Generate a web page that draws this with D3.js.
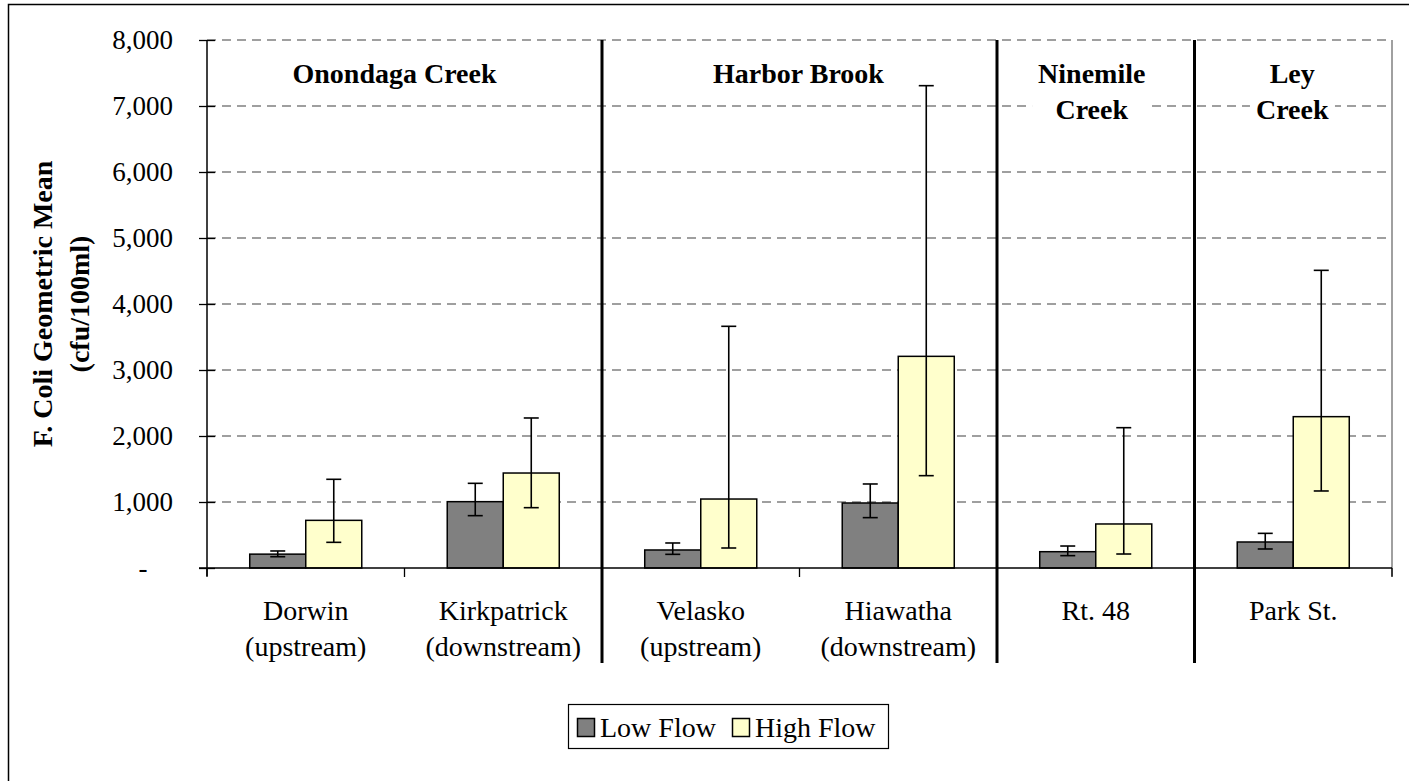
<!DOCTYPE html>
<html>
<head>
<meta charset="utf-8">
<script src="https://cdn.jsdelivr.net/npm/d3@7"></script>
<style>
  body { margin: 0; background: #fff; }
  svg { display: block; }
  svg text { font-family: "Liberation Serif", "Times New Roman", Times, "DejaVu Serif", serif; }
</style>
</head>
<body>
<svg id="chart" width="1409" height="781"></svg>
<script>
// ---- data ----
const categoryLine1 = ["Dorwin", "Kirkpatrick", "Velasko", "Hiawatha", "Rt. 48", "Park St."];
const categoryLine2 = ["(upstream)", "(downstream)", "(upstream)", "(downstream)", "", ""];
const seriesNames = ["Low Flow", "High Flow"];
const lowFlow = [210, 1005, 273, 985, 247, 394];
const highFlow = [722, 1439, 1045, 3207, 667, 2293];
const lowErrLow = [171, 793, 207, 763, 187, 288];
const lowErrHigh = [258, 1283, 379, 1273, 333, 525];
const highErrLow = [389, 914, 303, 1399, 212, 1167];
const highErrHigh = [1344, 2273, 3662, 7308, 2126, 4510];
const groupTitles = [["Onondaga Creek"], ["Harbor Brook"], ["Ninemile", "Creek"], ["Ley", "Creek"]];
const groupStart = [0, 2, 4, 5];
const groupEnd = [1, 3, 4, 5];
const yTicks = [0, 1000, 2000, 3000, 4000, 5000, 6000, 7000, 8000];
const yTitle = ["F. Coli Geometric Mean", "(cfu/100ml)"];

// ---- layout ----
const svg = d3.select("#chart");
const L = 207, R = 1392, T = 40, B = 568;
const colors = ["#808080", "#FFFFCC"];

// outer border
svg.append("rect").attr("x", 8.5).attr("y", 4.5).attr("width", 1420).attr("height", 820)
  .attr("fill", "none").attr("stroke", "#000").attr("stroke-width", 1.5);

const x = d3.scaleBand().domain(d3.range(categoryLine1.length)).range([L, R]).padding(0);
const xs = d3.scaleBand().domain([0, 1]).range([0, x.bandwidth()]).paddingInner(0).paddingOuter(0.763);
const y = d3.scaleLinear().domain([0, 8000]).range([B, T]);

// gridlines
svg.append("g").selectAll("line").data(yTicks.filter(d => d > 0)).join("line")
  .attr("x1", L).attr("x2", R).attr("y1", d => y(d)).attr("y2", d => y(d))
  .attr("stroke", "#808080").attr("stroke-width", 1.3).attr("stroke-dasharray", "9,6");

// right plot border
svg.append("line").attr("x1", R).attr("x2", R).attr("y1", T).attr("y2", B + 8)
  .attr("stroke", "#808080").attr("stroke-width", 1.5);

// group titles with white background boxes
const fmtDx = [-10, -1, -4, -1];
groupTitles.forEach((lines, gi) => {
  const cx = (x(groupStart[gi]) + x(groupEnd[gi]) + x.bandwidth()) / 2 + fmtDx[gi];
  const g = svg.append("g");
  const rect = g.append("rect").attr("fill", "#fff");
  const t = g.append("text").attr("text-anchor", "middle").attr("font-weight", "bold")
    .attr("font-size", 28).attr("fill", "#000");
  lines.forEach((ln, i) => {
    t.append("tspan").attr("x", cx).attr("y", 83 + i * 36).text(ln);
  });
  const bb = t.node().getBBox();
  rect.attr("x", bb.x - 6).attr("y", bb.y + 2).attr("width", bb.width + 12).attr("height", bb.height - 2);
});

// bars
const series = [
  { vals: lowFlow, lo: lowErrLow, hi: lowErrHigh },
  { vals: highFlow, lo: highErrLow, hi: highErrHigh }
];
series.forEach((s, si) => {
  const g = svg.append("g");
  g.selectAll("rect").data(s.vals).join("rect")
    .attr("x", (d, i) => x(i) + xs(si))
    .attr("y", d => y(d))
    .attr("width", xs.bandwidth())
    .attr("height", d => y(0) - y(d))
    .attr("fill", colors[si]).attr("stroke", "#000").attr("stroke-width", 1.5);
});
// error bars
series.forEach((s, si) => {
  const g = svg.append("g").attr("stroke", "#000").attr("stroke-width", 1.6);
  s.vals.forEach((d, i) => {
    const cx = x(i) + xs(si) + xs.bandwidth() / 2;
    g.append("line").attr("x1", cx).attr("x2", cx).attr("y1", y(s.lo[i])).attr("y2", y(s.hi[i]));
    [s.lo[i], s.hi[i]].forEach(v => {
      g.append("line").attr("x1", cx - 7.5).attr("x2", cx + 7.5).attr("y1", y(v)).attr("y2", y(v));
    });
  });
});

// y axis
const yAxis = svg.append("g").attr("transform", `translate(${L},0)`)
  .call(d3.axisLeft(y).tickValues(yTicks).tickSize(8).tickPadding(26)
    .tickFormat(d => d === 0 ? "-" : d3.format(",")(d)));
yAxis.select(".domain").remove();
yAxis.attr("font-family", null).attr("font-size", null);
yAxis.selectAll(".tick line").attr("x1", -8).attr("x2", 8).attr("stroke", "#000").attr("stroke-width", 1.3);
yAxis.selectAll(".tick text").attr("font-size", 27).attr("fill", "#000");
yAxis.selectAll(".tick text").filter(d => d === 0).attr("text-anchor", "middle").attr("x", -64);
svg.append("line").attr("x1", L).attr("x2", L).attr("y1", T).attr("y2", B + 8)
  .attr("stroke", "#000").attr("stroke-width", 1.5);

// x axis line and category ticks
svg.append("line").attr("x1", L - 8).attr("x2", R).attr("y1", B).attr("y2", B)
  .attr("stroke", "#000").attr("stroke-width", 1.5);
svg.append("g").selectAll("line").data(d3.range(categoryLine1.length + 1)).join("line")
  .attr("x1", i => i < categoryLine1.length ? x(i) : R)
  .attr("x2", i => i < categoryLine1.length ? x(i) : R)
  .attr("y1", B).attr("y2", B + 9)
  .attr("stroke", "#000").attr("stroke-width", 1.3);

// category labels
const cl = svg.append("g").attr("font-size", 28).attr("text-anchor", "middle").attr("fill", "#000");
categoryLine1.forEach((c, i) => {
  const cx = x(i) + x.bandwidth() / 2;
  const t = cl.append("text");
  t.append("tspan").attr("x", cx).attr("y", 620).text(c);
  if (categoryLine2[i]) t.append("tspan").attr("x", cx).attr("y", 656).text(categoryLine2[i]);
});

// group separators
svg.append("g").selectAll("line").data(groupStart.slice(1)).join("line")
  .attr("x1", i => x(i)).attr("x2", i => x(i)).attr("y1", T).attr("y2", 663)
  .attr("stroke", "#000").attr("stroke-width", 3);

// y title
const yt = svg.append("text").attr("transform", "rotate(-90)").attr("text-anchor", "middle")
  .attr("font-weight", "bold").attr("font-size", 28).attr("fill", "#000");
yTitle.forEach((ln, i) => {
  yt.append("tspan").attr("x", -(T + B) / 2).attr("y", 52 + i * 37).text(ln);
});

// legend
const lg = svg.append("g");
lg.append("rect").attr("x", 568.5).attr("y", 704.5).attr("width", 320).attr("height", 44)
  .attr("fill", "#fff").attr("stroke", "#000").attr("stroke-width", 1.2);
const legX = [577, 732];
seriesNames.forEach((n, i) => {
  lg.append("rect").attr("x", legX[i] + 0.5).attr("y", 718.5).attr("width", 17).attr("height", 18)
    .attr("fill", colors[i]).attr("stroke", "#000").attr("stroke-width", 1.5);
  lg.append("text").attr("x", legX[i] + 23).attr("y", 737).attr("font-size", 28).attr("fill", "#000").text(n);
});
</script>
</body>
</html>
